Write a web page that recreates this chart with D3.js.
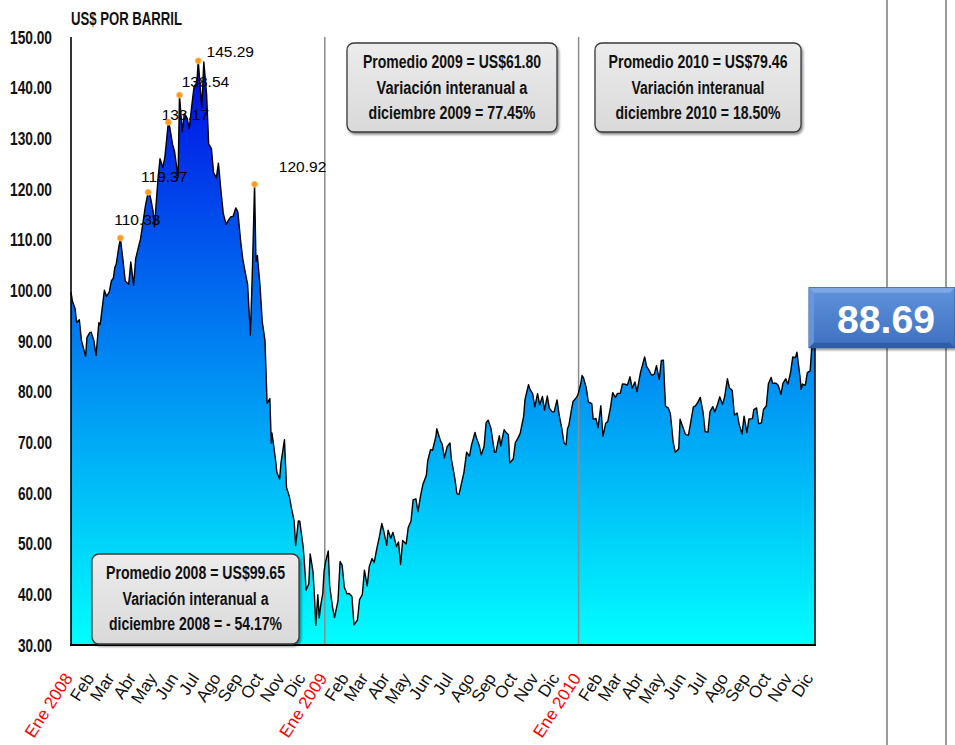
<!DOCTYPE html>
<html>
<head>
<meta charset="utf-8">
<script src="https://cdn.jsdelivr.net/npm/d3@7"></script>
<style>
  html, body { margin: 0; padding: 0; background: #ffffff; }
  svg { display: block; }
</style>
</head>
<body>
<svg id="chart" width="955" height="745"></svg>
<script>
// Precio diario del petróleo WTI (US$ por barril), 2008 - 2010
const wti2008 = [
  ["2008-01-02",99.62],["2008-01-04",97.91],["2008-01-08",96.33],["2008-01-10",93.67],["2008-01-14",94.20],
  ["2008-01-17",90.13],["2008-01-23",86.99],["2008-01-25",90.71],["2008-01-29",91.64],["2008-01-31",91.75],
  ["2008-02-04",90.02],["2008-02-07",87.14],["2008-02-11",93.59],["2008-02-13",93.27],["2008-02-15",95.50],
  ["2008-02-19",100.01],["2008-02-22",98.81],["2008-02-26",99.64],["2008-02-29",101.84],["2008-03-03",102.45],
  ["2008-03-05",104.52],["2008-03-07",105.15],["2008-03-11",108.75],["2008-03-13",110.33],["2008-03-17",105.68],
  ["2008-03-20",101.84],["2008-03-25",101.22],["2008-03-28",105.62],["2008-04-01",100.98],["2008-04-04",106.23],
  ["2008-04-08",108.50],["2008-04-11",110.14],["2008-04-15",113.79],["2008-04-18",116.69],["2008-04-22",119.37],
  ["2008-04-25",118.52],["2008-04-29",115.63],["2008-05-01",112.52],["2008-05-06",121.84],["2008-05-09",125.96],
  ["2008-05-13",124.23],["2008-05-16",126.29],["2008-05-21",133.17],["2008-05-23",132.19],["2008-05-27",128.85],
  ["2008-05-30",127.35],["2008-06-04",122.30],["2008-06-06",138.54],["2008-06-10",131.31],["2008-06-13",134.86],
  ["2008-06-17",134.01],["2008-06-20",131.93],["2008-06-24",136.80],["2008-06-27",140.21],["2008-07-01",140.97],
  ["2008-07-03",145.29],["2008-07-08",136.04],["2008-07-11",145.08],["2008-07-15",138.74],["2008-07-18",128.88],
  ["2008-07-22",127.95],["2008-07-25",123.26],["2008-07-29",122.19],["2008-08-01",125.10],["2008-08-05",119.17],
  ["2008-08-08",115.20],["2008-08-12",113.01],["2008-08-15",113.77],["2008-08-19",114.53],["2008-08-22",114.59],
  ["2008-08-26",116.27],["2008-08-29",115.46],["2008-09-02",109.71],["2008-09-05",106.23],["2008-09-09",103.26],
  ["2008-09-12",101.18],["2008-09-16",91.15],["2008-09-19",104.55],["2008-09-22",120.92],["2008-09-24",105.73],
  ["2008-09-26",106.89],["2008-09-30",100.64],["2008-10-03",93.88],["2008-10-07",90.06],["2008-10-10",77.70],
  ["2008-10-14",78.63],["2008-10-16",69.85],["2008-10-17",71.85],["2008-10-22",66.75],["2008-10-24",64.15],
  ["2008-10-28",62.73],["2008-10-30",65.96],["2008-11-04",70.53],["2008-11-07",61.04],["2008-11-11",59.33],
  ["2008-11-14",57.04],["2008-11-18",54.39],["2008-11-20",49.62],["2008-11-24",54.50],["2008-11-26",54.44],
  ["2008-12-01",49.28],["2008-12-04",43.67],["2008-12-05",40.81],["2008-12-09",42.07],["2008-12-11",47.98],
  ["2008-12-15",44.51],["2008-12-17",40.06],["2008-12-19",33.87],["2008-12-22",39.91],["2008-12-24",35.35],
  ["2008-12-26",37.71],["2008-12-29",40.02],["2008-12-31",44.60]
];

const wti2009 = [
  ["2009-01-02",46.34],["2009-01-06",48.58],["2009-01-08",41.70],["2009-01-12",37.59],["2009-01-15",35.40],
  ["2009-01-20",38.74],["2009-01-23",46.47],["2009-01-26",45.73],["2009-01-29",41.44],["2009-02-02",40.08],
  ["2009-02-05",40.17],["2009-02-09",39.56],["2009-02-12",33.98],["2009-02-17",34.93],["2009-02-20",38.94],
  ["2009-02-24",39.96],["2009-02-27",44.76],["2009-03-03",41.65],["2009-03-06",45.52],["2009-03-10",47.07],
  ["2009-03-13",46.25],["2009-03-17",49.16],["2009-03-20",51.06],["2009-03-24",53.98],["2009-03-27",52.38],
  ["2009-03-31",49.66],["2009-04-02",52.64],["2009-04-06",51.05],["2009-04-09",52.24],["2009-04-14",49.41],
  ["2009-04-17",50.33],["2009-04-20",45.88],["2009-04-23",50.62],["2009-04-28",49.92],["2009-05-01",53.20],
  ["2009-05-05",54.47],["2009-05-08",58.63],["2009-05-12",58.85],["2009-05-15",56.34],["2009-05-19",59.65],
  ["2009-05-22",61.67],["2009-05-27",63.45],["2009-05-29",66.31],["2009-06-02",68.55],["2009-06-05",68.44],
  ["2009-06-10",71.33],["2009-06-11",72.68],["2009-06-16",70.47],["2009-06-19",69.55],["2009-06-22",66.93],
  ["2009-06-26",69.16],["2009-06-30",69.89],["2009-07-02",66.73],["2009-07-07",62.93],["2009-07-10",59.89],
  ["2009-07-13",59.69],["2009-07-16",61.54],["2009-07-20",63.98],["2009-07-24",68.05],["2009-07-28",67.23],
  ["2009-07-31",69.45],["2009-08-05",71.97],["2009-08-07",70.93],["2009-08-11",69.45],["2009-08-14",67.51],
  ["2009-08-18",69.19],["2009-08-21",73.89],["2009-08-24",74.37],["2009-08-28",72.74],["2009-09-02",68.05],
  ["2009-09-04",68.02],["2009-09-09",71.31],["2009-09-11",69.29],["2009-09-16",72.51],["2009-09-18",72.04],
  ["2009-09-22",71.55],["2009-09-24",65.89],["2009-09-29",66.71],["2009-10-02",69.95],["2009-10-06",70.88],
  ["2009-10-09",71.77],["2009-10-14",75.18],["2009-10-16",78.53],["2009-10-21",81.37],["2009-10-23",80.50],
  ["2009-10-27",79.55],["2009-10-30",77.00],["2009-11-03",79.60],["2009-11-06",77.43],["2009-11-10",79.05],
  ["2009-11-13",76.35],["2009-11-17",79.14],["2009-11-20",76.72],["2009-11-24",76.02],["2009-11-27",76.05],
  ["2009-12-01",78.37],["2009-12-04",75.47],["2009-12-08",72.62],["2009-12-11",69.87],["2009-12-14",69.51],
  ["2009-12-16",72.66],["2009-12-18",73.36],["2009-12-22",76.67],["2009-12-24",78.05],["2009-12-29",78.87],
  ["2009-12-31",79.36]
];

const wti2010 = [
  ["2010-01-04",81.51],["2010-01-06",83.18],["2010-01-08",82.75],["2010-01-12",80.79],["2010-01-15",78.00],
  ["2010-01-20",77.62],["2010-01-22",74.54],["2010-01-26",74.71],["2010-01-29",72.89],["2010-02-02",77.23],
  ["2010-02-05",71.19],["2010-02-09",73.75],["2010-02-12",74.13],["2010-02-16",77.01],["2010-02-19",79.81],
  ["2010-02-23",78.86],["2010-02-26",79.66],["2010-03-02",79.68],["2010-03-05",81.50],["2010-03-09",81.49],
  ["2010-03-12",81.24],["2010-03-16",82.93],["2010-03-19",80.68],["2010-03-23",81.91],["2010-03-26",80.00],
  ["2010-03-31",83.76],["2010-04-06",86.84],["2010-04-09",84.92],["2010-04-13",84.05],["2010-04-16",83.24],
  ["2010-04-20",83.45],["2010-04-23",85.12],["2010-04-27",82.44],["2010-04-30",86.15],["2010-05-03",86.19],
  ["2010-05-06",77.11],["2010-05-10",76.80],["2010-05-13",75.65],["2010-05-17",70.08],["2010-05-20",68.01],
  ["2010-05-25",68.75],["2010-05-27",74.55],["2010-06-01",72.58],["2010-06-04",71.51],["2010-06-08",71.44],
  ["2010-06-11",73.78],["2010-06-15",76.94],["2010-06-18",77.18],["2010-06-21",77.80],["2010-06-25",78.86],
  ["2010-06-29",75.94],["2010-07-02",72.14],["2010-07-06",71.98],["2010-07-09",76.09],["2010-07-13",77.04],
  ["2010-07-16",76.01],["2010-07-20",77.58],["2010-07-23",78.98],["2010-07-27",77.50],["2010-07-30",78.95],
  ["2010-08-03",82.55],["2010-08-06",80.70],["2010-08-10",80.25],["2010-08-13",75.39],["2010-08-17",75.77],
  ["2010-08-20",73.46],["2010-08-24",71.63],["2010-08-27",75.17],["2010-08-31",71.92],["2010-09-03",74.60],
  ["2010-09-08",74.67],["2010-09-10",76.45],["2010-09-14",76.80],["2010-09-17",73.66],["2010-09-21",73.86],
  ["2010-09-24",76.49],["2010-09-28",77.18],["2010-10-01",81.58],["2010-10-05",82.82],["2010-10-07",81.67],
  ["2010-10-12",81.67],["2010-10-15",81.25],["2010-10-19",79.49],["2010-10-22",81.69],["2010-10-26",82.55],
  ["2010-10-29",81.43],["2010-11-02",83.90],["2010-11-05",86.85],["2010-11-09",86.72],["2010-11-11",87.81],
  ["2010-11-16",82.34],["2010-11-17",80.44],["2010-11-19",81.51],["2010-11-23",81.25],["2010-11-26",83.76],
  ["2010-11-30",84.11],["2010-12-02",88.00],["2010-12-03",89.19],["2010-12-06",89.38],["2010-12-07",88.69]
];

// Máximos destacados de 2008
const picos = [
  ["2008-03-13",110.33],["2008-04-22",119.37],["2008-05-21",133.17],
  ["2008-06-06",138.54],["2008-07-03",145.29],["2008-09-22",120.92]
];

const meses = ["Ene","Feb","Mar","Abr","May","Jun","Jul","Ago","Sep","Oct","Nov","Dic"];
const yTicks = [30,40,50,60,70,80,90,100,110,120,130,140,150];
const tituloEje = "US$ POR BARRIL";

const resumen2008 = ["Promedio 2008 = US$99.65","Variación interanual a","diciembre 2008 = - 54.17%"];
const resumen2009 = ["Promedio 2009 = US$61.80","Variación interanual a","diciembre 2009 = 77.45%"];
const resumen2010 = ["Promedio 2010 = US$79.46","Variación interanual","diciembre 2010 = 18.50%"];

// ---- layout ----
const W = 955, H = 745;
const plot = { left: 71, right: 815, top: 37, bottom: 645 };
const FONT = "'Liberation Sans', Arial, Helvetica, sans-serif";

const parse = d3.timeParse("%Y-%m-%d");
const serie = [...wti2008, ...wti2009, ...wti2010].map(([d, v]) => ({ date: parse(d), v }));
const ultimo = serie[serie.length - 1];

const x = d3.scaleTime()
  .domain([serie[0].date, ultimo.date])
  .range([plot.left, plot.right]);
const y = d3.scaleLinear().domain([30, 150]).range([plot.bottom, plot.top]);

const svg = d3.select("#chart");
const defs = svg.append("defs");

const grad = defs.append("linearGradient")
  .attr("id", "relleno").attr("gradientUnits", "userSpaceOnUse")
  .attr("x1", 0).attr("x2", 0).attr("y1", y(150)).attr("y2", y(30));
grad.append("stop").attr("offset", "0%").attr("stop-color", "rgb(0,0,228)");
grad.append("stop").attr("offset", "100%").attr("stop-color", "rgb(0,255,255)");

const gradCaja = defs.append("linearGradient")
  .attr("id", "cajaGris").attr("x1", 0).attr("x2", 0).attr("y1", 0).attr("y2", 1);
gradCaja.append("stop").attr("offset", "0%").attr("stop-color", "#ececec");
gradCaja.append("stop").attr("offset", "100%").attr("stop-color", "#d9d9d9");

const gradAzul = defs.append("linearGradient")
  .attr("id", "cajaAzul").attr("x1", 0).attr("x2", 0).attr("y1", 0).attr("y2", 1);
gradAzul.append("stop").attr("offset", "0%").attr("stop-color", "#5f93dc");
gradAzul.append("stop").attr("offset", "100%").attr("stop-color", "#3e70c0");

const sombra = defs.append("filter").attr("id", "sombra")
  .attr("x", "-10%").attr("y", "-10%").attr("width", "130%").attr("height", "140%");
sombra.append("feDropShadow").attr("dx", 1.5).attr("dy", 2).attr("stdDeviation", 1.2)
  .attr("flood-color", "#000").attr("flood-opacity", 0.45);

svg.append("rect").attr("width", W).attr("height", H).attr("fill", "#fff");

// side frame lines of the slide
svg.append("g").selectAll("line").data([887, 946]).join("line")
  .attr("x1", d => d).attr("x2", d => d).attr("y1", 0).attr("y2", H)
  .attr("stroke", "#9a9a9a").attr("stroke-width", 2);

// area + line
const area = d3.area().x(d => x(d.date)).y0(y(30)).y1(d => y(d.v));
const linea = d3.line().x(d => x(d.date)).y(d => y(d.v));

svg.append("path").datum(serie).attr("d", area).attr("fill", "url(#relleno)");

// year separators
const anios = [new Date(2009, 0, 1), new Date(2010, 0, 1)];
svg.append("g").selectAll("line").data(anios).join("line")
  .attr("x1", d => x(d)).attr("x2", d => x(d))
  .attr("y1", plot.top).attr("y2", plot.bottom)
  .attr("stroke", "#8c8c8c").attr("stroke-width", 1.5);

// peak value labels (below the price line)
const offsets = [[17, -18], [16, -15], [17, -7], [26, -13], [32, -9], [48, -17]];
const gPicos = svg.append("g");
gPicos.selectAll("text").data(picos).join("text")
  .attr("x", (d, i) => x(parse(d[0])) + offsets[i][0])
  .attr("y", (d, i) => y(d[1]) + offsets[i][1] + 5)
  .attr("text-anchor", "middle")
  .attr("font-family", FONT).attr("font-size", 15.5)
  .attr("fill", "#000")
  .text(d => d3.format(".2f")(d[1]));

svg.append("path").datum(serie).attr("d", linea)
  .attr("fill", "none").attr("stroke", "#000").attr("stroke-width", 1.4)
  .attr("stroke-linejoin", "round");

// closing edge of the area at the last observation
svg.append("line")
  .attr("x1", x(ultimo.date)).attr("x2", x(ultimo.date))
  .attr("y1", y(ultimo.v)).attr("y2", plot.bottom)
  .attr("stroke", "#000").attr("stroke-width", 1.5);

// peak markers
svg.append("g").selectAll("circle").data(picos).join("circle")
  .attr("cx", d => x(parse(d[0]))).attr("cy", d => y(d[1]))
  .attr("r", 3).attr("fill", "#ff9a1a").attr("stroke", "#ffc070").attr("stroke-width", 0.8);

// axes
svg.append("line").attr("x1", plot.left).attr("x2", plot.left)
  .attr("y1", plot.top).attr("y2", plot.bottom)
  .attr("stroke", "#000").attr("stroke-width", 1.6);
svg.append("line").attr("x1", plot.left - 1).attr("x2", plot.right + 1)
  .attr("y1", plot.bottom).attr("y2", plot.bottom)
  .attr("stroke", "#000").attr("stroke-width", 2.2);

// y tick labels
svg.append("g").selectAll("text").data(yTicks).join("text")
  .attr("x", 52).attr("y", d => y(d) + 6.5)
  .attr("text-anchor", "end")
  .attr("font-family", FONT).attr("font-weight", "bold").attr("font-size", 18)
  .attr("textLength", d => d >= 100 ? 42 : 34).attr("lengthAdjust", "spacingAndGlyphs")
  .attr("fill", "#111")
  .text(d => d3.format(".2f")(d));

// axis title
svg.append("text").attr("x", 71).attr("y", 25)
  .attr("font-family", FONT).attr("font-weight", "bold").attr("font-size", 18)
  .attr("textLength", 111).attr("lengthAdjust", "spacingAndGlyphs")
  .attr("fill", "#111").text(tituloEje);

// x month labels
const mesesTicks = d3.timeMonth.range(new Date(2008, 0, 1), new Date(2010, 11, 2));
svg.append("g").selectAll("text").data(mesesTicks).join("text")
  .attr("transform", d => `translate(${x(d) + 3},${678}) rotate(-57)`)
  .attr("text-anchor", "end")
  .attr("font-family", FONT).attr("font-size", 17)
  .attr("fill", d => d.getMonth() === 0 ? "#ff0000" : "#111")
  .text(d => d.getMonth() === 0 ? `${meses[0]} ${d.getFullYear()}` : meses[d.getMonth()]);

// yearly summary boxes
const cajas = [
  { lineas: resumen2008, x: 92, y: 554, w: 207, h: 90, anchos: [179, 146, 173] },
  { lineas: resumen2009, x: 347, y: 43, w: 210, h: 89, anchos: [178, 151, 167] },
  { lineas: resumen2010, x: 595, y: 43, w: 206, h: 89, anchos: [179, 133, 165] }
];
const gCajas = svg.append("g").selectAll("g").data(cajas).join("g")
  .attr("transform", d => `translate(${d.x},${d.y})`);
gCajas.append("rect")
  .attr("width", d => d.w).attr("height", d => d.h).attr("rx", 7)
  .attr("fill", "url(#cajaGris)").attr("stroke", "#3a3a3a").attr("stroke-width", 1.3)
  .attr("filter", "url(#sombra)");
gCajas.each(function (c) {
  d3.select(this).selectAll("text").data(c.lineas).join("text")
    .attr("x", c.w / 2).attr("y", (d, i) => 25 + i * 25.5)
    .attr("text-anchor", "middle")
    .attr("font-family", FONT).attr("font-weight", "bold").attr("font-size", 18)
    .attr("textLength", (d, i) => c.anchos[i]).attr("lengthAdjust", "spacingAndGlyphs")
    .attr("fill", "#111")
    .text(d => d);
});

// last value callout
const bx = x(ultimo.date) - 6, by = y(ultimo.v) - 60, bw = W - bx, bh = 60;
const gUlt = svg.append("g");
gUlt.append("rect").attr("x", bx).attr("y", by).attr("width", bw).attr("height", bh)
  .attr("fill", "url(#cajaAzul)").attr("stroke", "#2c5a9e").attr("stroke-width", 1)
  .attr("filter", "url(#sombra)");
gUlt.append("path")
  .attr("d", `M${bx},${by} L${bx + bw},${by} L${bx + bw - 5},${by + 5} L${bx + 5},${by + 5} Z`)
  .attr("fill", "#86aee6").attr("opacity", 0.8);
gUlt.append("path")
  .attr("d", `M${bx},${by} L${bx + 5},${by + 5} L${bx + 5},${by + bh - 5} L${bx},${by + bh} Z`)
  .attr("fill", "#6d9ade").attr("opacity", 0.8);
gUlt.append("path")
  .attr("d", `M${bx},${by + bh} L${bx + 5},${by + bh - 5} L${bx + bw - 5},${by + bh - 5} L${bx + bw},${by + bh} Z`)
  .attr("fill", "#2d5ca6").attr("opacity", 0.9);
gUlt.append("text")
  .attr("x", 886).attr("y", by + 45)
  .attr("text-anchor", "middle")
  .attr("font-family", FONT).attr("font-weight", "bold").attr("font-size", 38)
  .attr("textLength", 98).attr("lengthAdjust", "spacingAndGlyphs")
  .attr("fill", "#ffffff")
  .text(d3.format(".2f")(ultimo.v));
</script>
</body>
</html>
